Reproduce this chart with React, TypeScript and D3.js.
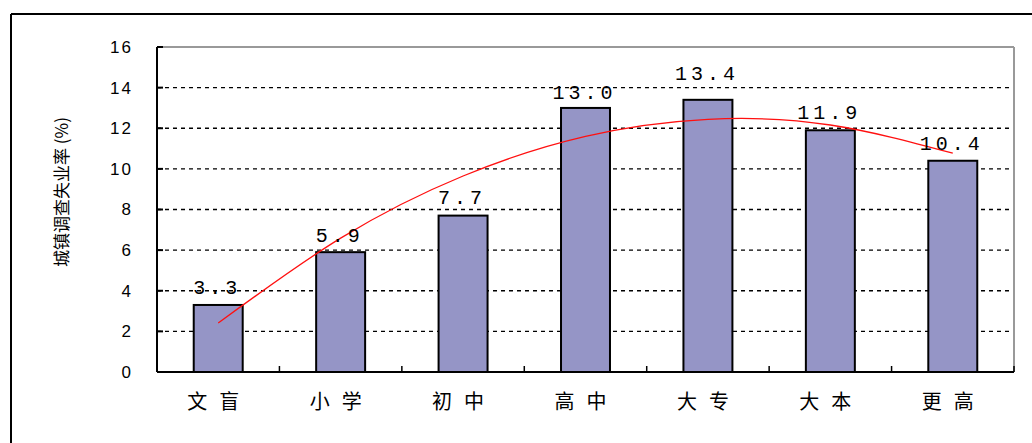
import React from "react";
import * as d3 from "d3";

const categories = ["文盲", "小学", "初中", "高中", "大专", "大本", "更高"];
const values = [3.3, 5.9, 7.7, 13.0, 13.4, 11.9, 10.4];
const valueLabels = ["3.3", "5.9", "7.7", "13.0", "13.4", "11.9", "10.4"];
const trendValues = [2.41, 6.59, 9.65, 11.6, 12.44, 12.16, 10.77];
const yTicks = [0, 2, 4, 6, 8, 10, 12, 14, 16];
const labelLift = [18, 17, 19, 16, 27, 18, 18];
const yTitle = "城镇调查失业率 (%)";

export default function App() {
  const W = 1032, H = 443;
  const left = 157, right = 1014, top = 47, bottom = 372;
  const x = d3.scaleBand<string>().domain(categories).range([left, right]).paddingInner(0).paddingOuter(0);
  const y = d3.scaleLinear().domain([0, 16]).range([bottom, top]);
  const bw = x.bandwidth() * 0.4;
  const cx = (c: string) => (x(c) as number) + x.bandwidth() / 2;
  const line = d3
    .line<number>()
    .x((_, i) => cx(categories[i]))
    .y((d) => y(d))
    .curve(d3.curveNatural);
  const mono = "'Liberation Mono', 'DejaVu Sans Mono', monospace";
  return (
    <div style={{ position: "fixed", left: 0, top: 0 }}>
      <svg width={W} height={H} style={{ display: "block", background: "#fff" }}>
        <rect x={0} y={0} width={W} height={H} fill="#fff" />
        <line x1={11} y1={14} x2={W} y2={14} stroke="#000" strokeWidth={2} />
        <line x1={11} y1={14} x2={11} y2={H} stroke="#000" strokeWidth={2} />
        {yTicks.filter((t) => t > 0 && t < 16).map((t) => (
          <line key={t} x1={left} x2={right} y1={y(t)} y2={y(t)} stroke="#000" strokeWidth={1.3} strokeDasharray="4,4" />
        ))}
        <line x1={left} x2={right} y1={top} y2={top} stroke="#999" strokeWidth={2} />
        <line x1={right} x2={right} y1={top} y2={bottom} stroke="#999" strokeWidth={2} />
        {values.map((v, i) => (
          <rect key={i} x={cx(categories[i]) - bw / 2} y={y(v)} width={bw} height={y(0) - y(v)} fill="#9595c6" stroke="#000" strokeWidth={2} />
        ))}
        <path d={line(trendValues) || ""} fill="none" stroke="#ff1010" strokeWidth={1.3} />
        <line x1={left} x2={left} y1={top} y2={bottom} stroke="#000" strokeWidth={2} />
        <line x1={left} x2={right} y1={bottom} y2={bottom} stroke="#000" strokeWidth={2} />
        {yTicks.map((t) => (
          <line key={t} x1={left} x2={left + 6} y1={y(t)} y2={y(t)} stroke="#000" strokeWidth={2} />
        ))}
        {categories.slice(1).map((c) => (
          <line key={c} x1={x(c) as number} x2={x(c) as number} y1={bottom} y2={bottom - 6} stroke="#000" strokeWidth={1.5} />
        ))}
        <line x1={right} x2={right} y1={bottom} y2={bottom - 6} stroke="#000" strokeWidth={1.5} />
        {yTicks.map((t) => (
          <text key={t} x={133} y={y(t)} dy="0.35em" textAnchor="end" fontFamily="'Liberation Sans', Arial, sans-serif" fontSize={17} letterSpacing={2} fill="#000">
            {t}
          </text>
        ))}
        {values.map((v, i) => (
          <text key={i} x={cx(categories[i]) - 1} y={y(v) - labelLift[i]} dy="0.35em" textAnchor="middle" fontFamily={mono} fontSize={20} letterSpacing={4} fill="#000">
            {valueLabels[i]}
          </text>
        ))}
        {categories.map((c) => (
          <text key={c} x={cx(c) + 1} y={402} dy="0.35em" textAnchor="middle" fontFamily="'Noto Sans CJK SC', sans-serif" fontSize={20} letterSpacing={12} fill="#000">
            {c}
          </text>
        ))}
        <text transform={`translate(62,192) rotate(-90)`} textAnchor="middle" dy="0.35em" fontFamily="'Noto Sans CJK SC', sans-serif" fontSize={17} fill="#000">
          {yTitle}
        </text>
      </svg>
    </div>
  );
}
